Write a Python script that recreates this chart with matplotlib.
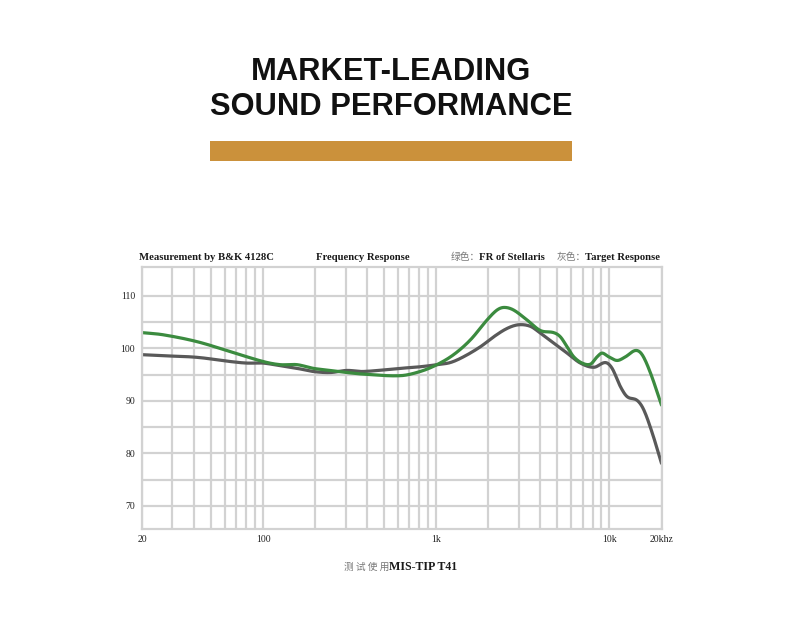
import numpy as np
import matplotlib
matplotlib.use('Agg')
import matplotlib.pyplot as plt

#%%----- data -----------------------------------------------------------------
# FR of Stellaris (green)
fr_freq = [20, 26.4, 41.4, 64.5, 100, 125.5, 157, 195, 244, 305, 379, 620, 809,
           1010, 1260, 1574, 1965, 2244, 2474, 2800, 3348, 3996, 4770, 5212,
           5700, 6225, 6960, 7780, 8500, 9080, 9915, 11090, 12390, 14150, 15460,
           17280, 20000]
fr_db = [103.0, 102.6, 101.3, 99.4, 97.5, 96.9, 96.9, 96.2, 95.8, 95.4, 95.1, 94.8, 95.6,
         96.9, 98.8, 101.6, 105.4, 107.3, 107.8, 107.3, 105.4, 103.4, 103.0, 102.2,
         100.3, 98.4, 97.2, 97.0, 98.4, 99.1, 98.4, 97.7, 98.4, 99.6, 98.8,
         95.3, 89.2]

# Target Response (gray)
tg_freq = [20, 26.4, 41.4, 64.5, 80.5, 100, 125.5, 157, 195, 244, 305, 379, 620,
           809, 1010, 1206, 1438, 1798, 2146, 2566, 2994, 3498, 3996, 4770, 5700,
           6800, 8130, 9490, 10370, 11590, 12670, 14460, 15800, 17680, 20000]
tg_db = [98.8, 98.6, 98.3, 97.5, 97.2, 97.2, 96.7, 96.2, 95.6, 95.4, 95.8, 95.6, 96.2,
         96.5, 96.9, 97.3, 98.4, 100.3, 102.2, 103.8, 104.5, 104.2, 102.9, 101.0, 99.1,
         97.2, 96.4, 97.3, 96.2, 92.7, 90.8, 90.1, 88.3, 83.9, 78.1]

x_ticks = [20, 100, 1000, 10000, 20000]
x_labels = ['20', '100', '1k', '10k', '20khz']
y_ticks = [70, 80, 90, 100, 110]

W, H = 790, 622
GREEN = '#3b8b3f'
GRAY = '#595959'
GRID = '#d2d2d2'
GOLD = '#cb913b'


def smooth(fx, fy, n=800):
    # Catmull-Rom through the read points, in log-frequency
    px = np.log10(fx)
    py = np.asarray(fy)
    xs = np.linspace(px[0], px[-1], n)
    out = np.empty_like(xs)
    for i, xv in enumerate(xs):
        k = np.searchsorted(px, xv) - 1
        k = min(max(k, 0), len(px) - 2)
        x0, x1 = px[k], px[k + 1]
        y0, y1 = py[k], py[k + 1]
        xm = px[k - 1] if k > 0 else x0 - (x1 - x0)
        ym = py[k - 1] if k > 0 else y0 - (y1 - y0)
        xp = px[k + 2] if k + 2 < len(px) else x1 + (x1 - x0)
        yp = py[k + 2] if k + 2 < len(px) else y1 + (y1 - y0)
        m0 = (y1 - ym) / (x1 - xm) * (x1 - x0)
        m1 = (yp - y0) / (xp - x0) * (x1 - x0)
        t = (xv - x0) / (x1 - x0)
        h00 = 2 * t**3 - 3 * t**2 + 1
        h10 = t**3 - 2 * t**2 + t
        h01 = -2 * t**3 + 3 * t**2
        h11 = t**3 - t**2
        out[i] = h00 * y0 + h10 * m0 + h01 * y1 + h11 * m1
    return 10 ** xs, out


#%%----- figure ---------------------------------------------------------------
fig = plt.figure(figsize=(W / 100, H / 100), dpi=100)
fig.patch.set_facecolor('white')


def fx(px):
    return px / W


def fy(py):
    return 1 - py / H


# heading
fig.text(0.495, fy(72), 'MARKET-LEADING', ha='center', va='center',
         family='Liberation Sans', weight='bold', fontsize=22.2, color='#111111')
fig.text(0.495, fy(107), 'SOUND PERFORMANCE', ha='center', va='center',
         family='Liberation Sans', weight='bold', fontsize=22.2, color='#111111')
bar = plt.Rectangle((fx(210), fy(161)), fx(572) - fx(210), fy(141) - fy(161),
                    transform=fig.transFigure, color=GOLD, lw=0)
fig.patches.append(bar)

# plot area
ax = fig.add_axes([fx(142), fy(529), fx(661.5) - fx(142), fy(267) - fy(529)])
ax.set_xscale('log')
ax.set_xlim(20, 20000)
ax.set_ylim(65.6, 115.5)

minor_x = [f for d in (10, 100, 1000) for f in np.arange(2, 10) * d if 20 < f < 10000]
minor_x = [f for f in minor_x if f not in x_ticks]
ax.set_xticks(x_ticks)
ax.set_xticklabels(x_labels)
ax.set_xticks(minor_x, minor=True)
ax.set_xticklabels([], minor=True)
ax.set_yticks(y_ticks)
ax.set_yticks([75, 85, 95, 105], minor=True)
ax.grid(True, which='both', color=GRID, lw=1.6)
ax.set_axisbelow(True)
ax.tick_params(which='both', length=0)
ax.tick_params(axis='x', pad=4)
ax.tick_params(axis='y', pad=5)
for lab in ax.get_xticklabels() + ax.get_yticklabels():
    lab.set_family('Liberation Serif')
    lab.set_fontsize(7)
    lab.set_color('#222222')
for s in ax.spines.values():
    s.set_color(GRID)
    s.set_linewidth(1.6)

gx, gy = smooth(tg_freq, tg_db)
ax.plot(gx, gy, color=GRAY, lw=2.3, solid_capstyle='round')
rx, ry = smooth(fr_freq, fr_db)
ax.plot(rx, ry, color=GREEN, lw=2.3, solid_capstyle='round')

# header line over the plot
serif = dict(family='Liberation Serif', weight='bold', fontsize=7.7, color='#1a1a1a', va='center')
cjk = dict(family=['Noto Sans CJK SC', 'DejaVu Sans'], fontsize=7, color='#777777', va='center')
fig.text(fx(139), fy(257), 'Measurement by B&K 4128C', ha='left', **serif)
fig.text(fx(363), fy(257), 'Frequency Response', ha='center', **serif)
fig.text(fx(451), fy(257), '绿色：', ha='left', **cjk)
fig.text(fx(479), fy(257), 'FR of Stellaris', ha='left', **serif)
fig.text(fx(557), fy(257), '灰色：', ha='left', **cjk)
fig.text(fx(585), fy(257), 'Target Response', ha='left', **serif)

# footer
foot_cjk = dict(cjk, fontsize=7)
fig.text(fx(389), fy(567), '测 试 使 用', ha='right', **foot_cjk)
fig.text(fx(389), fy(567), 'MIS-TIP T41', ha='left',
         **dict(serif, fontsize=8.6))

fig.savefig('out.png', dpi=100, facecolor='white')
